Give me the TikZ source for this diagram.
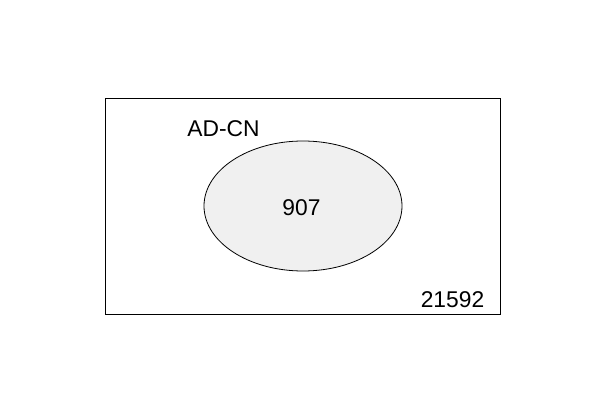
\documentclass[tikz,border=0pt]{standalone}
\usepackage{fontspec}
\setmainfont{Liberation Sans}
\begin{document}
\begin{tikzpicture}[x=1pt,y=1pt,
  lbl/.style={anchor=base,inner sep=0pt,font=\fontsize{22.8}{25}\selectfont},
  set/.style={draw=black,line width=0.8pt,fill=black!6}]
\useasboundingbox (0,0) rectangle (606,413);
\node[draw=black,line width=0.8pt,minimum width=395pt,minimum height=216pt,inner sep=0pt] (univ) at (302.5,207) {};
\draw[set] (303,207) ellipse [x radius=99, y radius=65];
\node[lbl] (name) at (223.5,276) {AD-CN};
\node[lbl] (inner) at (301.5,197) {907};
\node[lbl] (outer) at (452.5,105) {21592};
\end{tikzpicture}
\end{document}
